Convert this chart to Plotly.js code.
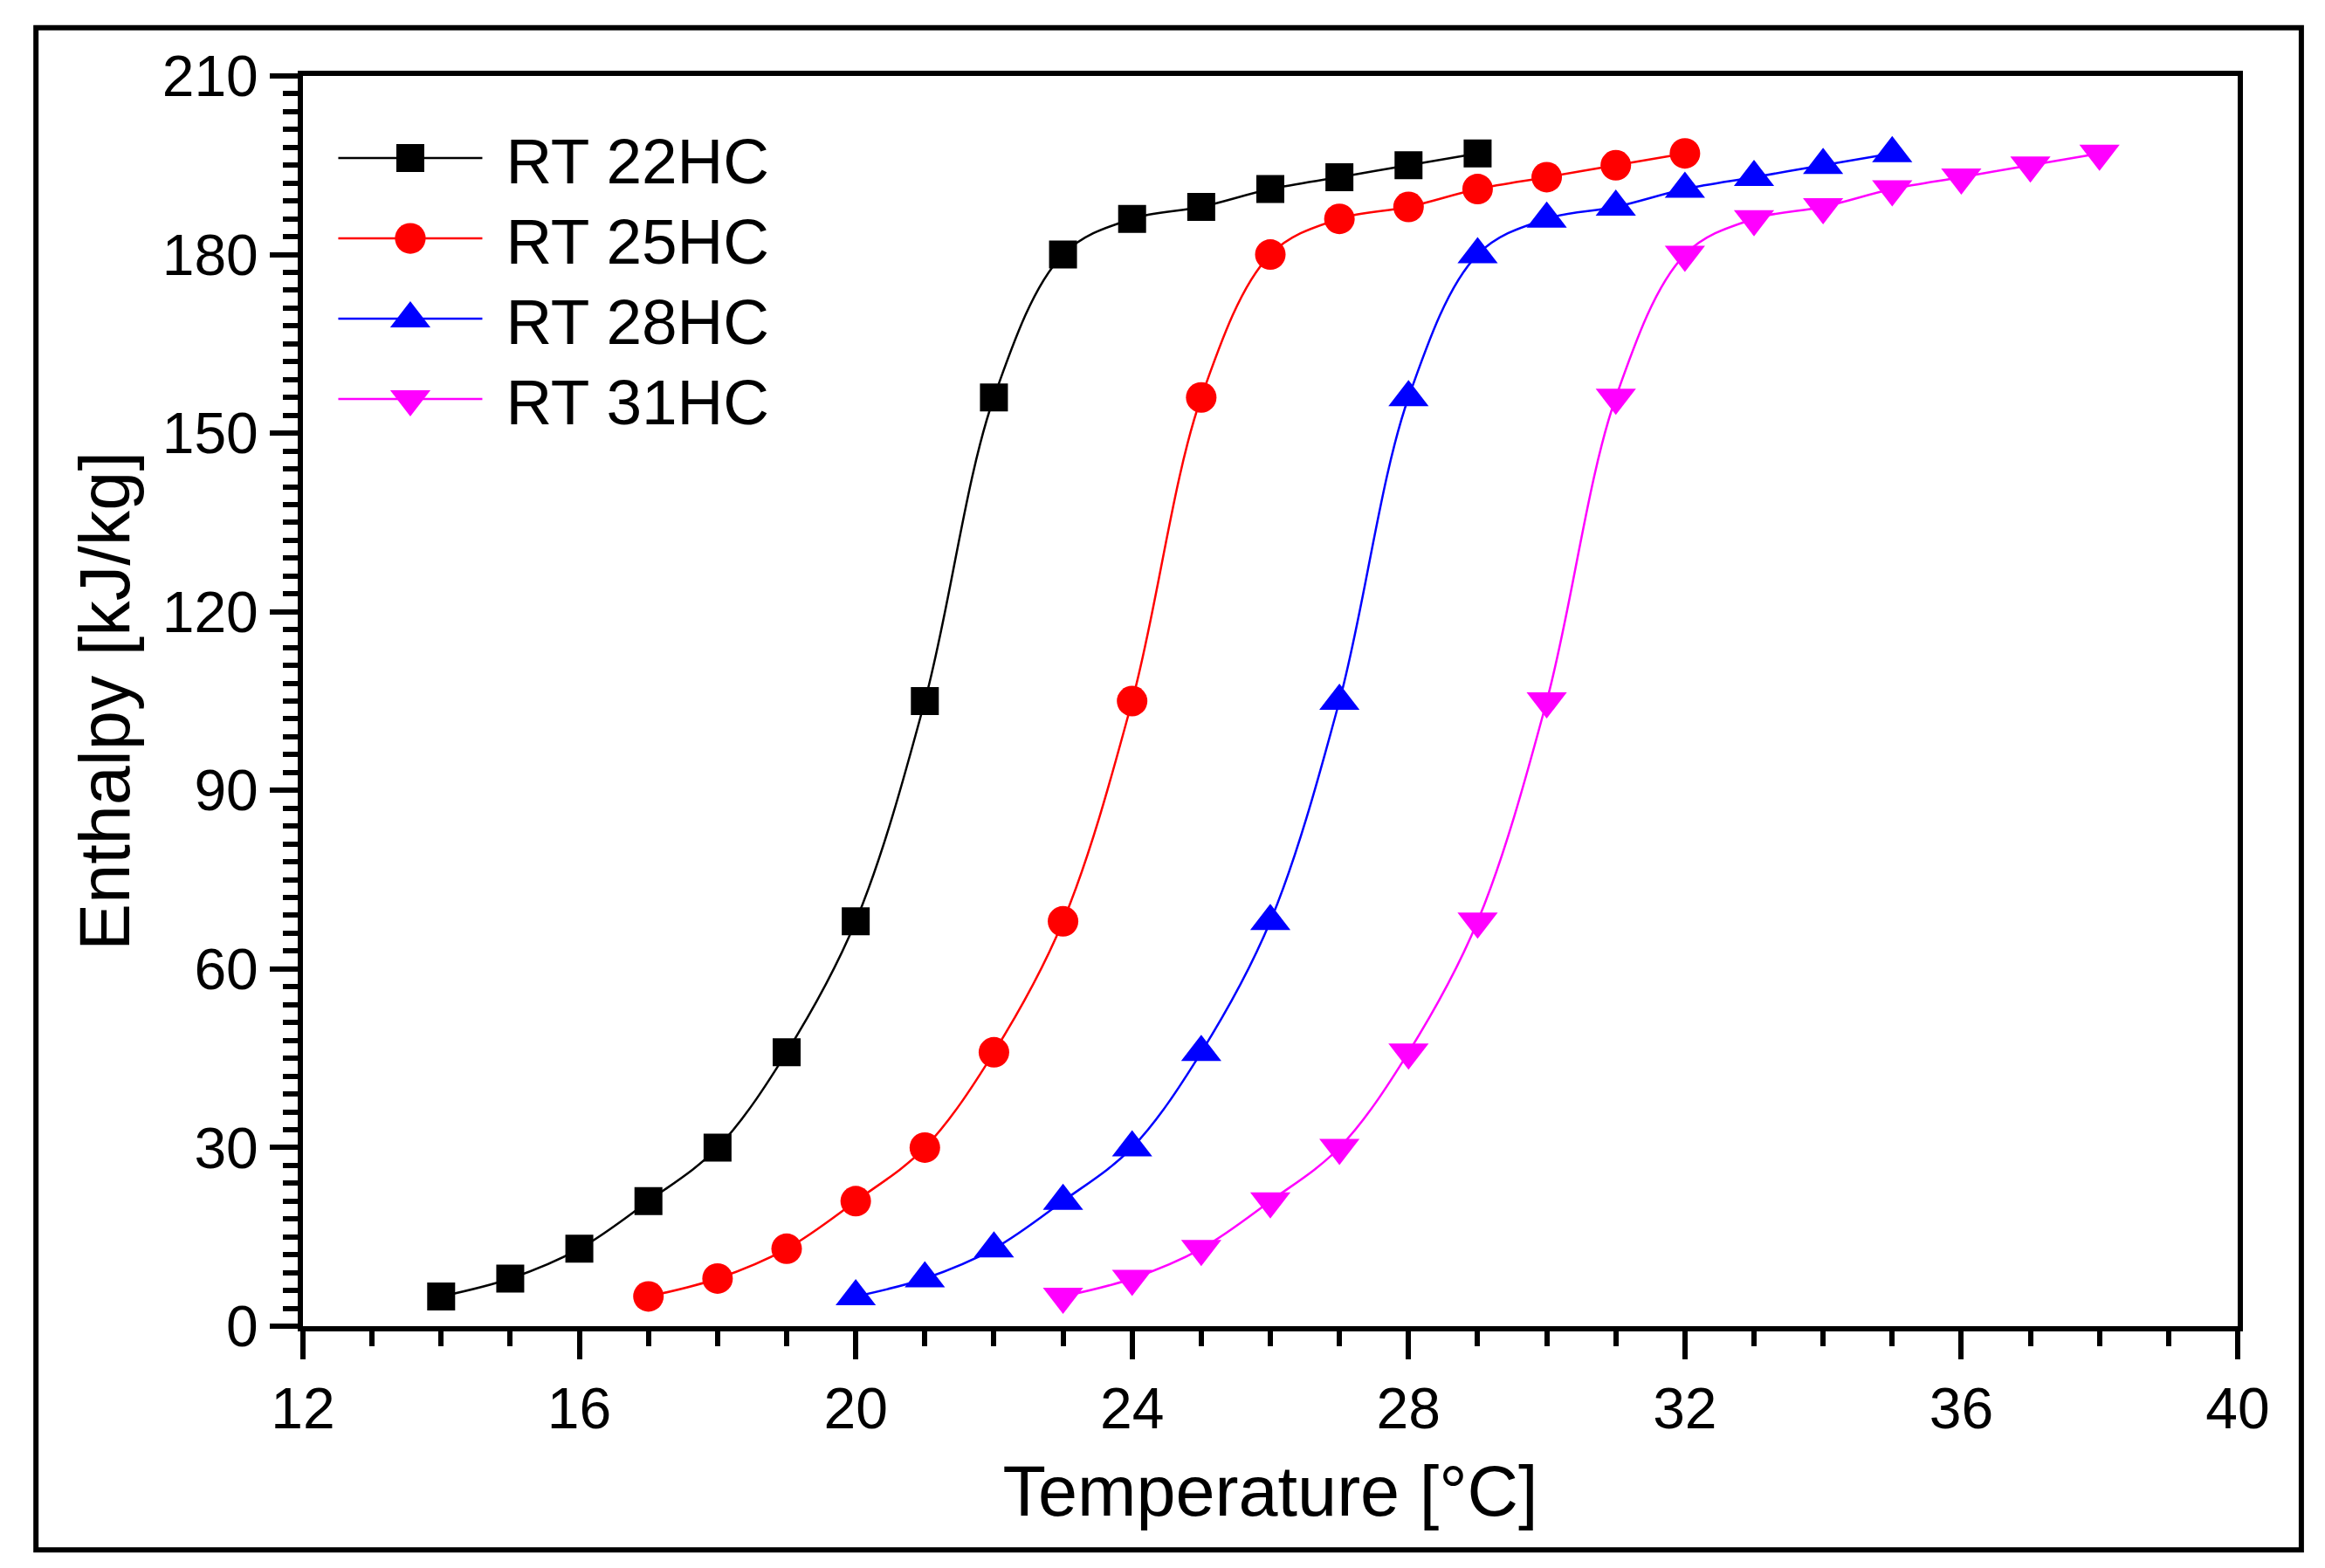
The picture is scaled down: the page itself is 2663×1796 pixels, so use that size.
<!DOCTYPE html>
<html>
<head>
<meta charset="utf-8">
<script src="https://cdn.plot.ly/plotly-3.0.1.min.js"></script>
<style>html,body{margin:0;padding:0;background:#fff;}</style>
</head>
<body>
<div id="chart" style="width:2663px;height:1796px;"></div>
<script>
// Data
const seriesNames = ["RT 22HC", "RT 25HC", "RT 28HC", "RT 31HC"];
const tempRT22 = [14,15,16,17,18,19,20,21,22,23,24,25,26,27,28,29];
const enthRT22 = [5,8,13,21,30,46,68,105,156,180,186,188,191,193,195,197];
const tempRT25 = [17,18,19,20,21,22,23,24,25,26,27,28,29,30,31,32];
const enthRT25 = [5,8,13,21,30,46,68,105,156,180,186,188,191,193,195,197];
const tempRT28 = [20,21,22,23,24,25,26,27,28,29,30,31,32,33,34,35];
const enthRT28 = [5,8,13,21,30,46,68,105,156,180,186,188,191,193,195,197];
const tempRT31 = [23,24,25,26,27,28,29,30,31,32,33,34,35,36,37,38];
const enthRT31 = [5,8,13,21,30,46,68,105,156,180,186,188,191,193,195,197];

const colors = ["#000000", "#ff0000", "#0000ff", "#ff00ff"];
const symbols = ["square", "circle", "triangle-up", "triangle-down"];
const sizes = [32, 35, 40, 40];
const xs = [tempRT22, tempRT25, tempRT28, tempRT31];
const ys = [enthRT22, enthRT25, enthRT28, enthRT31];

const font = "Liberation Sans, Arial, Helvetica, sans-serif";

const traces = seriesNames.map((n, i) => ({
  type: "scatter",
  mode: "lines+markers",
  name: n,
  x: xs[i],
  y: ys[i],
  line: {color: colors[i], width: 2.5, shape: "spline", smoothing: 1},
  marker: {color: colors[i], symbol: symbols[i], size: sizes[i], line: {width: 0}}
}));

const layout = {
  width: 2663,
  height: 1796,
  margin: {l: 347, r: 100, t: 87, b: 277, pad: 0},
  paper_bgcolor: "#ffffff",
  plot_bgcolor: "#ffffff",
  showlegend: true,
  font: {family: font, color: "#000"},
  legend: {
    x: 0.016, y: 0.972, xanchor: "left", yanchor: "top",
    bgcolor: "rgba(0,0,0,0)", borderwidth: 0,
    font: {family: font, size: 73, color: "#000"},
    itemwidth: 165,
    tracegroupgap: 0
  },
  xaxis: {
    range: [12, 40],
    tickmode: "linear", tick0: 12, dtick: 4,
    ticks: "outside", ticklen: 32, tickwidth: 6, tickcolor: "#000",
    minor: {dtick: 1, tick0: 12, ticks: "outside", ticklen: 17, tickwidth: 6, tickcolor: "#000", showgrid: false},
    showline: true, linewidth: 6, linecolor: "#000", mirror: true,
    showgrid: false, zeroline: false,
    tickfont: {family: font, size: 66, color: "#000"},
    title: {text: "Temperature [°C]", font: {family: font, size: 81, color: "#000"}, standoff: 32}
  },
  yaxis: {
    range: [0, 210],
    tickmode: "linear", tick0: 0, dtick: 30,
    ticks: "outside", ticklen: 32, tickwidth: 6, tickcolor: "#000",
    minor: {dtick: 3, tick0: 0, ticks: "outside", ticklen: 17, tickwidth: 6, tickcolor: "#000", showgrid: false},
    showline: true, linewidth: 6, linecolor: "#000", mirror: true,
    showgrid: false, zeroline: false,
    tickfont: {family: font, size: 66, color: "#000"},
    title: {text: "Enthalpy [kJ/kg]", font: {family: font, size: 81, color: "#000"}, standoff: 12}
  },
  shapes: [{
    type: "rect", xref: "paper", yref: "paper",
    x0: -0.138, x1: 1.0329, y0: -0.179, y1: 1.0385,
    line: {color: "#000", width: 6}, fillcolor: "rgba(0,0,0,0)", layer: "above"
  }]
};

// legend styling tweaks: larger symbols, tighter rows, gap before text
const legendScale = [2.0, 2.2, 2.5, 2.5];
const legendRowGap = 92;
const legendTextShift = 22;

Plotly.newPlot("chart", traces, layout, {staticPlot: true, displayModeBar: false}).then(gd => {
  gd.querySelectorAll(".legend [clip-path]").forEach(el => el.removeAttribute("clip-path"));
  const items = gd.querySelectorAll(".legend .traces");
  let y0 = null;
  items.forEach((el, i) => {
    const tr = el.getAttribute("transform") || "";
    const m = tr.match(/translate\(\s*([-\d.]+)[ ,]+([-\d.]+)\s*\)/);
    if (m) {
      const x = parseFloat(m[1]);
      const y = parseFloat(m[2]);
      if (y0 === null) y0 = y;
      el.setAttribute("transform", "translate(" + x + "," + (y0 + i * legendRowGap) + ")");
    }
    el.querySelectorAll("path.scatterpts").forEach(p => {
      const t = p.getAttribute("transform") || "";
      p.setAttribute("transform", t + " scale(" + legendScale[i] + ")");
    });
    const txt = el.querySelector("text.legendtext");
    if (txt) txt.setAttribute("transform", "translate(" + legendTextShift + ",0)");
  });
});
</script>
</body>
</html>
